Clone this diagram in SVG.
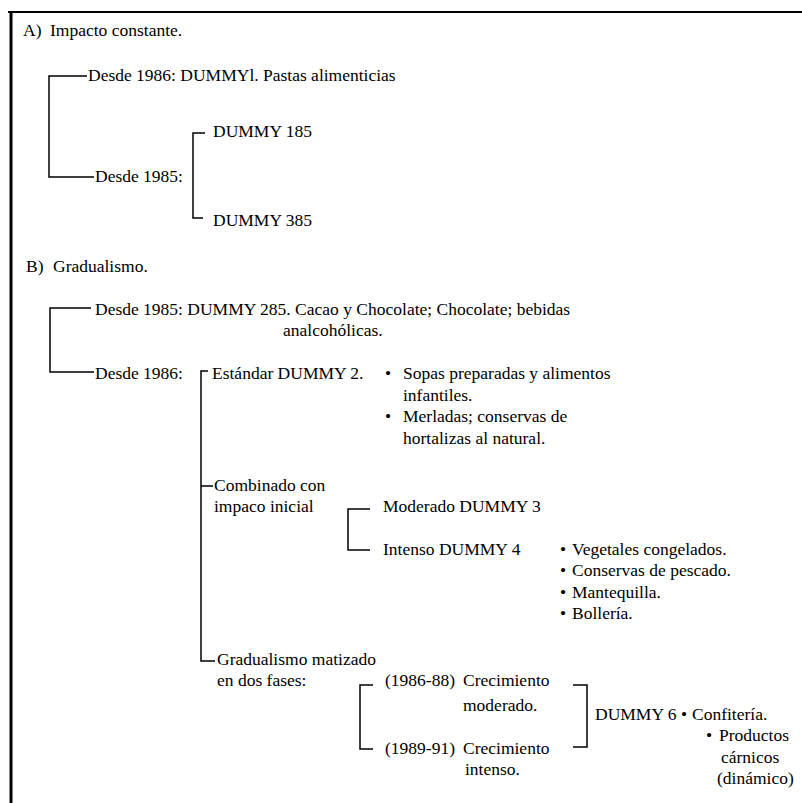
<svg xmlns="http://www.w3.org/2000/svg" width="802" height="803" viewBox="0 0 802 803">
<style>
text{font-family:"Liberation Serif","Times New Roman",serif;font-size:17.5px;fill:#000}
.ln{fill:none;stroke:#000;stroke-width:1.5}
.bd{fill:none;stroke:#000}
</style>
<rect width="802" height="803" fill="#fff"/>
<g id="frame">
<line class="bd" x1="8" y1="12" x2="802" y2="12" stroke-width="2"/>
<line class="bd" x1="11" y1="11" x2="11" y2="803" stroke-width="3"/>
</g>
<g id="connectors">
<path class="ln" d="M87,76 H49 V177 H94"/>
<path class="ln" d="M205,133 H193 V218 H203"/>
<path class="ln" d="M91,308 H50 V372 H94"/>
<path class="ln" d="M208,371 H201 V661 H215"/>
<path class="ln" d="M201,486 H213"/>
<path class="ln" d="M370,509 H348 V550 H370"/>
<path class="ln" d="M373,685 H360 V749 H373"/>
<path class="ln" d="M573,685 H587 V747 H573"/>
</g>
<g id="secA"><text x="23" y="36">A)</text><text x="50" y="36">Impacto constante.</text></g>
<g id="a1"><text x="88" y="81">Desde 1986: DUMMYl. Pastas alimenticias</text></g>
<g id="a2"><text x="95" y="182">Desde 1985:</text></g>
<g id="a2a"><text x="213" y="137">DUMMY 185</text></g>
<g id="a2b"><text x="213" y="226">DUMMY 385</text></g>
<g id="secB"><text x="26" y="272">B)</text><text x="53" y="272">Gradualismo.</text></g>
<g id="b1"><text x="95" y="315">Desde 1985: DUMMY 285. Cacao y Chocolate; Chocolate; bebidas</text><text x="283" y="336">analcohólicas.</text></g>
<g id="b2"><text x="95" y="379">Desde 1986:</text></g>
<g id="b2a"><text x="212" y="379">Estándar DUMMY 2.</text>
<text x="385" y="379">•</text><text x="403" y="379">Sopas preparadas y alimentos</text><text x="403" y="401">infantiles.</text>
<text x="385" y="422">•</text><text x="403" y="422">Merladas; conservas de</text><text x="403" y="444">hortalizas al natural.</text></g>
<g id="b2b"><text x="214" y="491">Combinado con</text><text x="214" y="512">impaco inicial</text></g>
<g id="b2b1"><text x="383" y="512">Moderado DUMMY 3</text></g>
<g id="b2b2"><text x="383" y="555">Intenso DUMMY 4</text>
<text x="560" y="555">•</text><text x="572" y="555">Vegetales congelados.</text>
<text x="560" y="576">•</text><text x="572" y="576">Conservas de pescado.</text>
<text x="560" y="598">•</text><text x="572" y="598">Mantequilla.</text>
<text x="560" y="619">•</text><text x="572" y="619">Bollería.</text></g>
<g id="b2c"><text x="217" y="665">Gradualismo matizado</text><text x="217" y="686">en dos fases:</text></g>
<g id="b2c1"><text x="385" y="686">(1986-88)</text><text x="463" y="686">Crecimiento</text><text x="463" y="711">moderado.</text></g>
<g id="b2c2"><text x="385" y="754">(1989-91)</text><text x="463" y="754">Crecimiento</text><text x="465" y="775">intenso.</text></g>
<g id="b2d"><text x="595" y="720">DUMMY 6</text>
<text x="681" y="720">•</text><text x="692" y="720">Confitería.</text>
<text x="706" y="741">•</text><text x="719" y="741">Productos</text><text x="721" y="763">cárnicos</text><text x="717" y="784">(dinámico)</text></g>
</svg>
